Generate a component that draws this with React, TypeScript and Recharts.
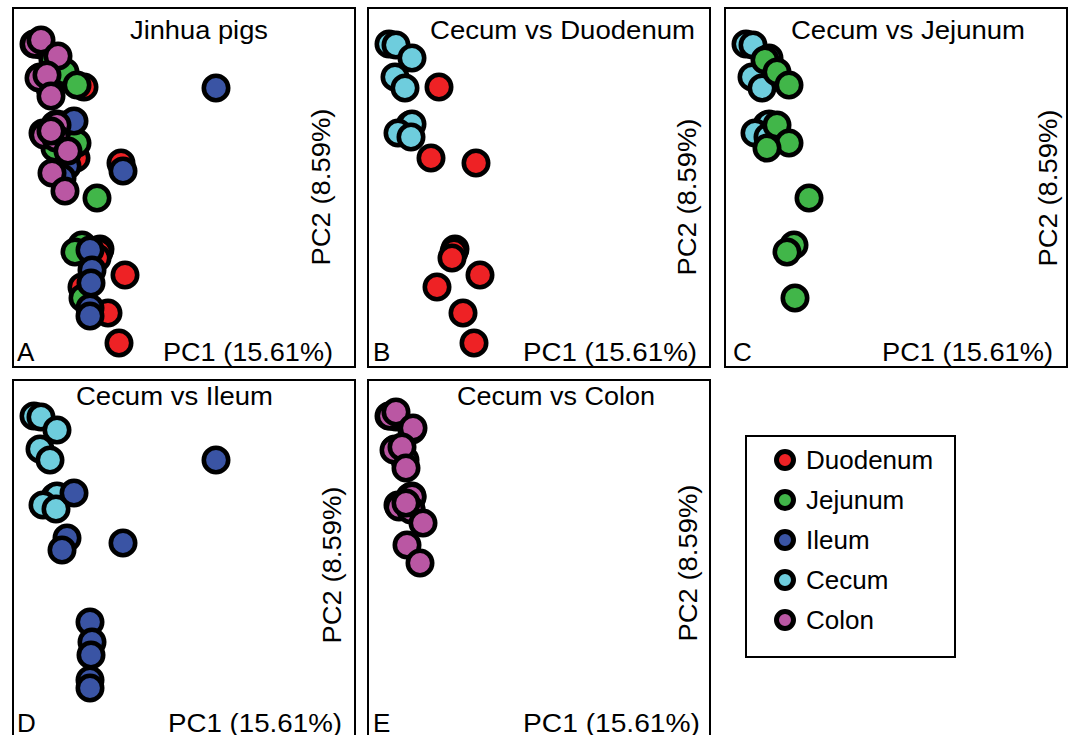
import React from "react";
import { ScatterChart, Scatter, XAxis, YAxis } from "recharts";

// ---------- data (PCoA scores) ----------
const groups = ["Duodenum", "Jejunum", "Ileum", "Cecum", "Colon"];
const groupColors = ["#EE2225", "#41B649", "#3A54A4", "#6ECDDD", "#BA57A3"];

const cecumPC1 = [-0.079, -0.072, -0.056, -0.073, -0.063, -0.058, -0.056, -0.070, -0.057];
const cecumPC2 = [0.144, 0.143, 0.130, 0.111, 0.100, 0.063, 0.064, 0.055, 0.051];

const duodenumPC1 = [-0.029, -0.037, 0.008, -0.013, -0.014, -0.016, 0.012, -0.031, -0.005, 0.006];
const duodenumPC2 = [0.101, 0.030, 0.025, -0.061, -0.064, -0.070, -0.087, -0.099, -0.125, -0.155];

const jejunumPC1 = [-0.060, -0.048, -0.036, -0.048, -0.036, -0.058, -0.016, -0.031, -0.038, -0.030];
const jejunumPC2 = [0.128, 0.116, 0.103, 0.063, 0.045, 0.040, -0.010, -0.057, -0.064, -0.110];

const ileumPC1 = [0.103, -0.039, -0.046, -0.051, 0.010, -0.023, -0.021, -0.022, -0.023, -0.023];
const ileumPC2 = [0.100, 0.067, 0.022, 0.010, 0.017, -0.062, -0.082, -0.095, -0.120, -0.128];

const colonPC1 = [-0.078, -0.072, -0.055, -0.074, -0.066, -0.062, -0.056, -0.069, -0.057, -0.062, -0.045, -0.061, -0.048];
const colonPC2 = [0.144, 0.148, 0.132, 0.110, 0.113, 0.092, 0.063, 0.053, 0.050, 0.057, 0.037, 0.015, -0.003];

const pc1Label = "PC1 (15.61%)";
const pc2Label = "PC2 (8.59%)";

const zip = (xs: number[], ys: number[]) => xs.map((x, i) => ({ x, y: ys[i] }));

const seriesData: Record<string, { x: number; y: number }[]> = {
  Duodenum: zip(duodenumPC1, duodenumPC2),
  Jejunum: zip(jejunumPC1, jejunumPC2),
  Ileum: zip(ileumPC1, ileumPC2),
  Cecum: zip(cecumPC1, cecumPC2),
  Colon: zip(colonPC1, colonPC2),
};

const colorOf = (g: string) => groupColors[groups.indexOf(g)];

// ---------- layout ----------
const PW = 343;
const PH = 359;
const FONT = '"Liberation Sans", Arial, Helvetica, sans-serif';

type Panel = {
  letter: string;
  title: string;
  series: string[];
  left: number;
  top: number;
  titleX: number;
  titleY: number;
  titleLen: number;
  pc1X: number;
  pc1Len: number;
  bottomY: number;
  letterX: number;
  pc2X: number;
  pc2Y: number;
};

const panels: Panel[] = [
  { letter: "A", title: "Jinhua pigs", series: ["Cecum", "Duodenum", "Jejunum", "Ileum", "Colon"], left: 13, top: 8,
    titleX: 130, titleY: 39, titleLen: 138, pc1X: 163, pc1Len: 170, bottomY: 361, letterX: 17, pc2X: 330, pc2Y: 187 },
  { letter: "B", title: "Cecum vs Duodenum", series: ["Cecum", "Duodenum"], left: 368, top: 8,
    titleX: 430, titleY: 39, titleLen: 265, pc1X: 523, pc1Len: 174, bottomY: 361, letterX: 373, pc2X: 696, pc2Y: 197 },
  { letter: "C", title: "Cecum vs Jejunum", series: ["Cecum", "Jejunum"], left: 725, top: 8,
    titleX: 791, titleY: 39, titleLen: 234, pc1X: 882, pc1Len: 171, bottomY: 361, letterX: 733, pc2X: 1057, pc2Y: 188 },
  { letter: "D", title: "Cecum vs Ileum", series: ["Cecum", "Ileum"], left: 13, top: 380,
    titleX: 76, titleY: 405, titleLen: 197, pc1X: 168, pc1Len: 174, bottomY: 732, letterX: 17, pc2X: 341, pc2Y: 565 },
  { letter: "E", title: "Cecum vs Colon", series: ["Cecum", "Colon"], left: 368, top: 380,
    titleX: 457, titleY: 405, titleLen: 198, pc1X: 523, pc1Len: 177, bottomY: 732, letterX: 373, pc2X: 697, pc2Y: 563 },
];

const Dot = (fill: string) => (props: any) => {
  const { cx, cy } = props;
  if (cx == null || cy == null) return <g />;
  return <circle cx={cx} cy={cy} r={12.2} fill={fill} stroke="#000" strokeWidth={4.6} />;
};

const PanelChart = ({ p }: { p: Panel }) => (
  <div style={{ position: "absolute", left: p.left, top: p.top, width: PW, height: PH }}>
    <ScatterChart width={PW} height={PH} margin={{ top: 0, right: 0, bottom: 0, left: 0 }}>
      <XAxis type="number" dataKey="x" domain={[-0.1, 0.243]} hide allowDataOverflow />
      <YAxis type="number" dataKey="y" domain={[-0.179, 0.18]} hide allowDataOverflow />
      {p.series.map((g) => (
        <Scatter key={g} name={g} data={seriesData[g]} shape={Dot(colorOf(g))} isAnimationActive={false} />
      ))}
    </ScatterChart>
  </div>
);

export default function App() {
  return (
    <div style={{ position: "absolute", left: 0, top: 0, width: 1072, height: 735, overflow: "hidden", background: "#fff" }}>
      {panels.map((p) => (
        <PanelChart key={p.letter} p={p} />
      ))}
      <svg width={1072} height={735} style={{ position: "absolute", left: 0, top: 0, pointerEvents: "none" }}
        fontFamily={FONT}>
        {panels.map((p) => (
          <g key={p.letter}>
            <rect x={p.left} y={p.top} width={PW - 1} height={PH} fill="none" stroke="#000" strokeWidth={2} />
            <text x={p.titleX} y={p.titleY} fontSize={26} textLength={p.titleLen} lengthAdjust="spacingAndGlyphs" fill="#000">
              {p.title}
            </text>
            <text x={p.pc1X} y={p.bottomY} fontSize={26} textLength={p.pc1Len} lengthAdjust="spacingAndGlyphs" fill="#000">
              {pc1Label}
            </text>
            <text x={p.letterX} y={p.bottomY} fontSize={26} fill="#000">
              {p.letter}
            </text>
            <text x={p.pc2X} y={p.pc2Y} fontSize={26} textAnchor="middle" textLength={157} lengthAdjust="spacingAndGlyphs"
              transform={`rotate(-90 ${p.pc2X} ${p.pc2Y})`} fill="#000">
              {pc2Label}
            </text>
          </g>
        ))}
        <rect x={746} y={436} width={209} height={221} fill="none" stroke="#000" strokeWidth={2} />
        {groups.map((g, i) => (
          <g key={g}>
            <circle cx={785} cy={460 + 40 * i} r={8.5} fill={groupColors[i]} stroke="#000" strokeWidth={5} />
            <text x={806} y={469 + 40 * i} fontSize={26} fill="#000">
              {g}
            </text>
          </g>
        ))}
      </svg>
    </div>
  );
}
